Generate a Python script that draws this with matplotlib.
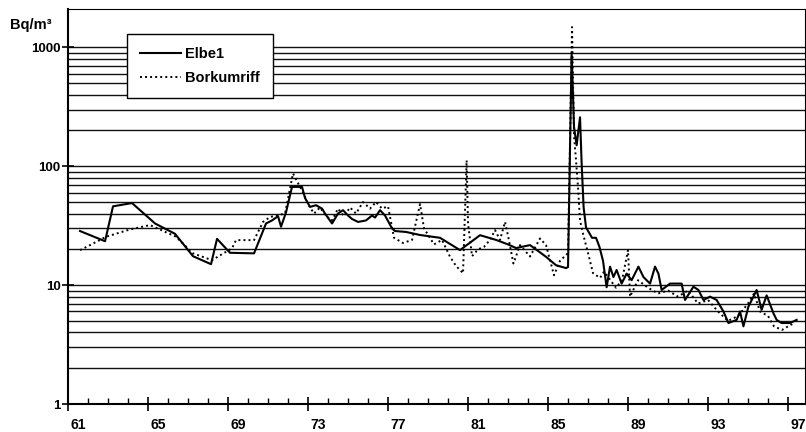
import matplotlib.pyplot as plt
import matplotlib.transforms as mtransforms
import numpy as np

# Elbe1 (solid) - year, Bq/m3
elbe_year = [61.6, 62.85, 63.25, 64.2, 65.35, 66.35, 67.25, 68.15, 68.45, 69.1,
             70.3, 70.9, 71.2, 71.5, 71.65, 71.9, 72.2, 72.7, 72.85, 73.1,
             73.4, 73.7, 73.85, 74.2, 74.5, 74.75, 75.0, 75.2, 75.5, 75.9,
             76.2, 76.35, 76.6, 76.85, 77.2, 77.35, 77.9, 78.6, 79.6, 80.6,
             81.6, 82.4, 83.0, 83.4, 84.1, 84.9, 85.4, 85.9, 86.0, 86.18,
             86.3, 86.43, 86.6, 86.68, 86.78, 86.9, 87.2, 87.4, 87.57, 87.75,
             87.93, 88.1, 88.27, 88.43, 88.68, 88.93, 89.18, 89.52, 89.77, 90.1,
             90.35, 90.52, 90.68, 91.1, 91.68, 91.85, 92.27, 92.52, 92.77, 93.1,
             93.43, 93.77, 94.02, 94.43, 94.6, 94.77, 95.02, 95.27, 95.43, 95.68,
             95.93, 96.27, 96.43, 96.68, 97.1, 97.43]
elbe_val = [28.5, 23.4, 46, 49, 33, 27, 17.5, 15, 24.5, 18.7,
            18.5, 33, 35, 38, 31, 41, 67, 67, 54, 45.5,
            47, 44, 40, 33, 40, 42.7, 38.5, 36, 34, 35,
            38.5, 37, 42.7, 38.5, 30, 28.5, 28, 26.4, 25, 19.7,
            26.3, 24, 22, 20.5, 21.7, 17.3, 14.7, 13.9, 14.2, 890,
            213, 150, 258, 106, 45, 30.6, 25, 25, 21, 16,
            9.6, 14.3, 11.7, 13.4, 10.3, 12.5, 11, 14.3, 11.7, 10.3,
            14.3, 12.5, 9.1, 10.3, 10.3, 7.5, 9.7, 9.1, 7.5, 8,
            7.5, 6, 4.8, 5.1, 6, 4.5, 6.6, 8, 9.1, 6.2,
            8.2, 5.8, 5.1, 4.8, 4.8, 5.1]

# Borkumriff (dotted)
bork_year = [61.6, 62.1, 62.9, 64.1, 65.1, 66.4, 67.25, 68.2, 68.6, 69.2,
             69.4, 70.3, 70.75, 71.1, 71.85, 72.25, 72.5, 72.8, 73.0, 73.3,
             73.6, 73.9, 74.2, 74.5, 74.8, 75.1, 75.4, 75.75, 76.1, 76.4,
             76.7, 77.0, 77.3, 77.75, 78.2, 78.6, 78.8, 79.3, 79.7, 80.1,
             80.4, 80.75, 80.93, 81.0, 81.2, 81.5, 81.8, 82.1, 82.35, 82.6,
             82.85, 83.0, 83.27, 83.6, 84.1, 84.6, 84.9, 85.3, 85.6, 86.0,
             86.2, 86.3, 86.4, 86.5, 86.6, 86.75, 87.0, 87.25, 87.6, 87.8,
             88.0, 88.4, 88.7, 89.0, 89.1, 89.5, 90.0, 90.5, 91.0, 91.5,
             92.0, 92.5, 93.0, 93.5, 94.0, 94.5, 95.0, 95.3, 95.6, 96.0,
             96.3, 96.7, 97.0, 97.3]
bork_val = [19.7, 21.7, 25.5, 29.4, 32, 25.5, 18.5, 16.2, 17.8, 20.4,
            23.9, 23.9, 34, 37.4, 40, 87, 72, 58, 48, 40,
            45, 38, 35, 44, 38, 45, 40, 50, 44, 50,
            44, 46, 25, 22.6, 24, 48, 30, 22, 24, 17.3,
            14.5, 12.6, 112, 33, 17.5, 20, 21, 24, 29, 24,
            34, 26, 15.2, 21.7, 17.4, 24.7, 21.7, 12.1, 16, 18.6,
            1480, 180, 112, 66, 35, 27, 18.6, 12.6, 11.5, 13,
            11.7, 9.5, 11, 19.7, 8, 11, 9.5, 8.5, 9, 8,
            9, 7, 7.5, 6, 5, 5.5, 7, 8.5, 6, 5.5,
            4.5, 4.2, 4.5, 4.8]

year_ticks = [61, 65, 69, 73, 77, 81, 85, 89, 93, 97]

plt.rcParams['font.family'] = ['Liberation Sans', 'DejaVu Sans']
plt.rcParams['font.weight'] = 'bold'

fig = plt.figure(figsize=(8.06, 4.32), dpi=100)
ax = fig.add_axes([0.0844, 0.0648, 0.9144, 0.9143])

# horizontal grid at every log step 1..1000
for dec in [1, 10, 100, 1000]:
    for m in range(1, 10):
        v = dec * m
        if v > 1000:
            break
        ax.axhline(v, color='#111111', lw=1.0, zorder=1)

ax.plot(elbe_year, elbe_val, color='black', lw=1.5, label='Elbe1', zorder=3)
ax.plot(bork_year, bork_val, color='black', lw=1.4, ls=(0, (1, 1.6)),
        label='Borkumriff', zorder=3)

ax.set_yscale('log')
ax.set_ylim(1, 2100)
ax.set_xlim(61, 97.85)

ax.set_yticks([1, 10, 100, 1000])
ax.set_yticklabels(['1', '10', '100', '1000'])
ax.yaxis.set_minor_locator(plt.NullLocator())
ax.tick_params(axis='y', which='major', direction='inout', length=9, width=1.2,
               labelsize=9.5, pad=1)

ax.set_xticks(year_ticks)
ax.set_xticklabels([str(y) for y in year_ticks])
ax.set_xticks(np.arange(61, 98), minor=True)
ax.tick_params(axis='x', which='major', direction='inout', length=10, width=1.2,
               labelsize=10, pad=5)
ax.tick_params(axis='x', which='minor', direction='in', length=4, width=1.0)

# labels sit half a year right of their ticks
offset = mtransforms.ScaledTranslation(0.10, 0, fig.dpi_scale_trans)
for lab in ax.get_xticklabels():
    lab.set_transform(lab.get_transform() + offset)

for side in ['left', 'bottom']:
    ax.spines[side].set_linewidth(1.5)
for side in ['top', 'right']:
    ax.spines[side].set_linewidth(0.8)

fig.text(31 / 806, 1 - 25 / 432, 'Bq/m³', ha='center', va='center',
         fontsize=10.5, fontweight='bold')

leg = ax.legend(loc='upper left', bbox_to_anchor=(0.080, 0.937), fancybox=False,
                framealpha=1, edgecolor='black', handlelength=2.8,
                handletextpad=0.3, borderpad=0.9, labelspacing=0.7,
                borderaxespad=0, prop={'size': 10.5, 'weight': 'bold'})
leg.get_frame().set_linewidth(1.0)
leg.set_zorder(5)

fig.savefig('out.png', dpi=100)
